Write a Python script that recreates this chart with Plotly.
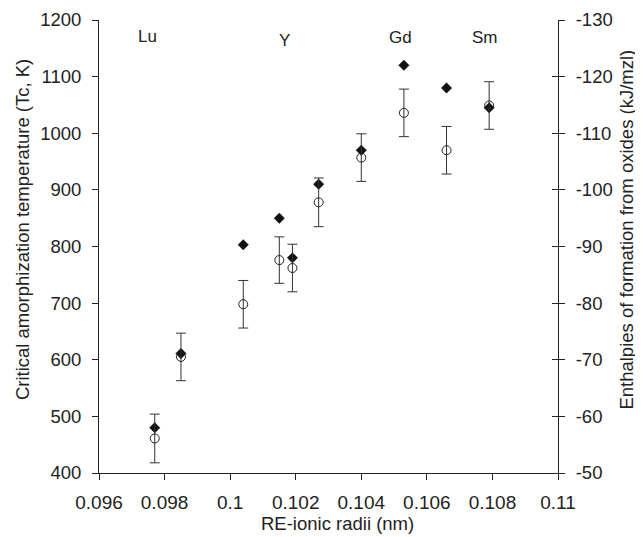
import plotly.graph_objects as go

# Data
radius_nm = [0.0977, 0.0985, 0.1004, 0.1015, 0.1019, 0.1027, 0.1040, 0.1053, 0.1066, 0.1079]
tc_K = [480, 611, 803, 850, 780, 910, 970, 1120, 1080, 1045]
enthalpy_kJ = [-56.1, -70.5, -79.8, -87.6, -86.2, -97.8, -105.7, -113.6, -107.0, -114.9]
enthalpy_err = [4.3, 4.2, 4.2, 4.1, 4.2, 4.3, 4.2, 4.2, 4.2, 4.2]

element_labels = ["Lu", "Y", "Gd", "Sm"]
element_x = [0.09747, 0.10167, 0.10521, 0.10777]
element_y = [1170, 1164, 1169, 1169]

x_tickvals = [0.096, 0.098, 0.100, 0.102, 0.104, 0.106, 0.108, 0.110]
x_ticktext = ["0.096", "0.098", "0.1", "0.102", "0.104", "0.106", "0.108", "0.11"]
left_tickvals = [400, 500, 600, 700, 800, 900, 1000, 1100, 1200]
right_tickvals = [-50, -60, -70, -80, -90, -100, -110, -120, -130]
right_ticktext = ["-50", "-60", "-70", "-80", "-90", "-100", "-110", "-120", "-130"]

FONT = "Liberation Sans, Arial, sans-serif"
AX = "#222222"
TICK_SIZE = 18.5
TITLE_SIZE = 18.5

fig = go.Figure()

fig.add_trace(go.Scatter(
    x=radius_nm, y=enthalpy_kJ, yaxis="y2", mode="markers",
    marker=dict(symbol="circle-open", size=9, color="#222222", line=dict(width=1, color="#222222")),
    error_y=dict(type="data", array=enthalpy_err, visible=True, thickness=1, width=5, color="#333333"),
    showlegend=False, hoverinfo="skip"))

fig.add_trace(go.Scatter(
    x=radius_nm, y=tc_K, mode="markers",
    marker=dict(symbol="diamond", size=8, color="#111111", line=dict(width=0.5, color="#111111")),
    showlegend=False))

fig.add_trace(go.Scatter(x=[None], y=[None], yaxis="y3", showlegend=False, hoverinfo="skip"))

for lab, lx, ly in zip(element_labels, element_x, element_y):
    fig.add_annotation(x=lx, y=ly, xref="x", yref="y", text=lab, showarrow=False,
                       font=dict(family=FONT, size=17, color="#222222"))

fig.add_annotation(x=-0.167, y=0.537, xref="paper", yref="paper", textangle=-90,
                   text="Critical amorphization temperature (Tc, K)", showarrow=False,
                   xanchor="center", yanchor="middle",
                   font=dict(family=FONT, size=TITLE_SIZE, color="#222222"))
fig.add_annotation(x=1.15, y=0.537, xref="paper", yref="paper", textangle=-90,
                   text="Enthalpies of formation from oxides (kJ/mzl)", showarrow=False,
                   xanchor="center", yanchor="middle",
                   font=dict(family=FONT, size=TITLE_SIZE, color="#222222"))
fig.add_annotation(x=0.52, y=-0.112, xref="paper", yref="paper",
                   text="RE-ionic radii (nm)", showarrow=False,
                   xanchor="center", yanchor="middle",
                   font=dict(family=FONT, size=TITLE_SIZE, color="#222222"))

# the page body has an 8px margin, so the plot margins are shifted to compensate
fig.update_layout(
    width=643, height=537,
    margin=dict(l=91, r=93, t=12, b=72),
    paper_bgcolor="white", plot_bgcolor="white",
    font=dict(family=FONT, size=TICK_SIZE, color="#222222"),
    xaxis=dict(range=[0.096, 0.110], tickvals=x_tickvals, ticktext=x_ticktext,
               showgrid=False, zeroline=False, showline=True, linecolor=AX, linewidth=1,
               ticks="outside", ticklen=6, tickcolor=AX, ticklabelstandoff=6, automargin=False,
               tickfont=dict(family=FONT, size=19, color="#222222")),
    yaxis=dict(range=[400, 1200], tickvals=left_tickvals,
               showgrid=False, zeroline=False, showline=True, linecolor=AX, linewidth=1,
               ticks="outside", ticklen=6, tickcolor=AX, ticklabelstandoff=7, automargin=False,
               tickfont=dict(family=FONT, size=TICK_SIZE, color="#222222")),
    yaxis2=dict(range=[-50, -130], overlaying="y", side="right", anchor="x",
                tickvals=right_tickvals, ticktext=right_ticktext,
                showgrid=False, zeroline=False, showline=True, linecolor=AX, linewidth=1,
                ticks="outside", ticklen=6, tickcolor=AX, ticklabelstandoff=7, automargin=False,
                tickfont=dict(family=FONT, size=TICK_SIZE, color="#222222")),
    yaxis3=dict(range=[-50, -130], overlaying="y", side="right", anchor="x",
                tickvals=right_tickvals, showticklabels=False, automargin=False,
                showgrid=False, zeroline=False, showline=False,
                ticks="inside", ticklen=6, tickcolor=AX),
)

fig.write_html("out.html")
